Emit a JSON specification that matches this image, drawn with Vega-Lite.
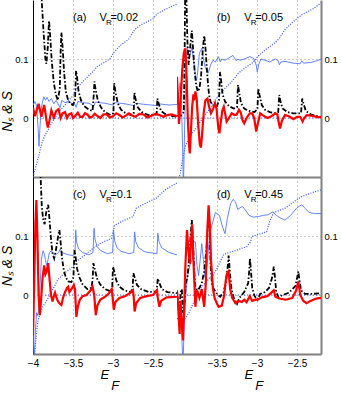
{
"$schema":"https://vega.github.io/schema/vega-lite/v6.json",
"background":"white",
"padding":{"left":0,"top":0,"right":0,"bottom":0},
"spacing":0,
"config":{"view":{"stroke":null},"font":"Liberation Sans",
"axis":{"labelFont":"Liberation Sans","labelFontSize":10,"labelColor":"black","ticks":false,"grid":true,"gridColor":"#8c8c8c","gridDash":[1,3],"gridWidth":0.9,"titleFont":"Liberation Sans","titleFontWeight":"normal","titleColor":"black","labelFlush":false}},
"datasets":{
"labels":[{"p":"a","t":"(a)","v":"=0.02"},{"p":"b","t":"(b)","v":"=0.05"},{"p":"c","t":"(c)","v":"=0.1"},{"p":"d","t":"(d)","v":"=0.45"}],
"aZ":[{"x":-3.95,"y":0},{"x":-2.2,"y":0}],
"bZ":[{"x":-3.96,"y":0},{"x":-2.2,"y":0}],
"cZ":[{"x":-3.85,"y":0},{"x":-2.2,"y":0}],
"dZ":[{"x":-3.95,"y":0},{"x":-2.2,"y":0}],
"aN":[{"x":-4.0,"y":0.3},{"x":-3.9,"y":0.22},{"x":-3.87,"y":0.15},{"x":-3.845,"y":0.1},{"x":-3.833,"y":0.092},{"x":-3.815,"y":0.12},{"x":-3.8,"y":0.165},{"x":-3.79,"y":0.15},{"x":-3.765,"y":0.095},{"x":-3.74,"y":0.06},{"x":-3.715,"y":0.04},{"x":-3.69,"y":0.03},{"x":-3.665,"y":0.05},{"x":-3.655,"y":0.11},{"x":-3.645,"y":0.145},{"x":-3.63,"y":0.12},{"x":-3.61,"y":0.075},{"x":-3.59,"y":0.045},{"x":-3.56,"y":0.03},{"x":-3.53,"y":0.024},{"x":-3.5,"y":0.022},{"x":-3.475,"y":0.03},{"x":-3.462,"y":0.08},{"x":-3.45,"y":0.07},{"x":-3.43,"y":0.045},{"x":-3.4,"y":0.03},{"x":-3.36,"y":0.02},{"x":-3.3,"y":0.014},{"x":-3.255,"y":0.012},{"x":-3.24,"y":0.04},{"x":-3.232,"y":0.062},{"x":-3.22,"y":0.05},{"x":-3.19,"y":0.03},{"x":-3.15,"y":0.018},{"x":-3.1,"y":0.01},{"x":-3.03,"y":0.005},{"x":-2.995,"y":0.008},{"x":-2.985,"y":0.059},{"x":-2.97,"y":0.045},{"x":-2.94,"y":0.025},{"x":-2.9,"y":0.014},{"x":-2.85,"y":0.009},{"x":-2.78,"y":0.005},{"x":-2.742,"y":0.008},{"x":-2.732,"y":0.043},{"x":-2.72,"y":0.033},{"x":-2.69,"y":0.018},{"x":-2.64,"y":0.01},{"x":-2.56,"y":0.005},{"x":-2.455,"y":0.006},{"x":-2.445,"y":0.033},{"x":-2.43,"y":0.025},{"x":-2.4,"y":0.012},{"x":-2.35,"y":0.007},{"x":-2.28,"y":0.004},{"x":-2.2,"y":0.002}],
"aS":[{"x":-4.0,"y":0.018},{"x":-3.975,"y":0.003},{"x":-3.93,"y":0.024},{"x":-3.895,"y":0.002},{"x":-3.86,"y":0.022},{"x":-3.83,"y":-0.005},{"x":-3.815,"y":-0.016},{"x":-3.795,"y":-0.005},{"x":-3.77,"y":0.013},{"x":-3.74,"y":0.001},{"x":-3.71,"y":0.012},{"x":-3.68,"y":0.015},{"x":-3.655,"y":0.0},{"x":-3.63,"y":0.008},{"x":-3.6,"y":0.01},{"x":-3.575,"y":0.0},{"x":-3.55,"y":0.006},{"x":-3.52,"y":0.008},{"x":-3.5,"y":0.0},{"x":-3.47,"y":0.004},{"x":-3.44,"y":0.009},{"x":-3.41,"y":0.002},{"x":-3.38,"y":0.002},{"x":-3.35,"y":0.008},{"x":-3.32,"y":0.006},{"x":-3.29,"y":0.001},{"x":-3.26,"y":0.002},{"x":-3.23,"y":0.007},{"x":-3.2,"y":0.004},{"x":-3.16,"y":0.0},{"x":-3.12,"y":0.006},{"x":-3.08,"y":0.006},{"x":-3.04,"y":0.001},{"x":-3.0,"y":0.003},{"x":-2.96,"y":0.008},{"x":-2.92,"y":0.005},{"x":-2.88,"y":0.001},{"x":-2.84,"y":0.004},{"x":-2.8,"y":0.008},{"x":-2.76,"y":0.004},{"x":-2.72,"y":0.002},{"x":-2.67,"y":0.007},{"x":-2.62,"y":0.006},{"x":-2.57,"y":0.001},{"x":-2.52,"y":0.004},{"x":-2.47,"y":0.007},{"x":-2.42,"y":0.005},{"x":-2.37,"y":0.002},{"x":-2.32,"y":0.005},{"x":-2.27,"y":0.006},{"x":-2.2,"y":0.003}],
"aB":[{"x":-4.0,"y":0.022},{"x":-3.975,"y":0.028},{"x":-3.955,"y":0.02},{"x":-3.935,"y":-0.02},{"x":-3.925,"y":-0.048},{"x":-3.915,"y":-0.02},{"x":-3.9,"y":0.012},{"x":-3.885,"y":0.025},{"x":-3.865,"y":0.036},{"x":-3.845,"y":0.03},{"x":-3.825,"y":0.035},{"x":-3.8,"y":0.028},{"x":-3.77,"y":0.033},{"x":-3.74,"y":0.024},{"x":-3.71,"y":0.03},{"x":-3.68,"y":0.022},{"x":-3.66,"y":0.018},{"x":-3.64,"y":0.03},{"x":-3.6,"y":0.026},{"x":-3.56,"y":0.028},{"x":-3.52,"y":0.025},{"x":-3.48,"y":0.024},{"x":-3.46,"y":0.018},{"x":-3.44,"y":0.028},{"x":-3.38,"y":0.026},{"x":-3.3,"y":0.025},{"x":-3.24,"y":0.02},{"x":-3.22,"y":0.027},{"x":-3.1,"y":0.025},{"x":-3.0,"y":0.022},{"x":-2.98,"y":0.026},{"x":-2.85,"y":0.024},{"x":-2.74,"y":0.021},{"x":-2.72,"y":0.025},{"x":-2.6,"y":0.023},{"x":-2.45,"y":0.021},{"x":-2.43,"y":0.024},{"x":-2.3,"y":0.022},{"x":-2.2,"y":0.023}],
"aD":[{"x":-4.0,"y":-0.1},{"x":-3.97,"y":-0.085},{"x":-3.93,"y":-0.065},{"x":-3.9,"y":-0.048},{"x":-3.87,"y":-0.035},{"x":-3.83,"y":-0.024},{"x":-3.79,"y":-0.015},{"x":-3.75,"y":-0.005},{"x":-3.7,"y":0.006},{"x":-3.65,"y":0.015},{"x":-3.6,"y":0.022},{"x":-3.55,"y":0.03},{"x":-3.5,"y":0.038},{"x":-3.46,"y":0.048},{"x":-3.42,"y":0.055},{"x":-3.37,"y":0.063},{"x":-3.3,"y":0.072},{"x":-3.235,"y":0.081},{"x":-3.2,"y":0.087},{"x":-3.1,"y":0.095},{"x":-3.04,"y":0.1},{"x":-2.985,"y":0.112},{"x":-2.9,"y":0.124},{"x":-2.8,"y":0.134},{"x":-2.73,"y":0.15},{"x":-2.65,"y":0.158},{"x":-2.5,"y":0.168},{"x":-2.445,"y":0.177},{"x":-2.3,"y":0.187},{"x":-2.2,"y":0.193}],
"bN":[{"x":-4.0,"y":0.004},{"x":-3.95,"y":0.004},{"x":-3.915,"y":0.01},{"x":-3.905,"y":0.1},{"x":-3.895,"y":0.26},{"x":-3.885,"y":0.22},{"x":-3.87,"y":0.13},{"x":-3.855,"y":0.09},{"x":-3.835,"y":0.12},{"x":-3.815,"y":0.148},{"x":-3.8,"y":0.12},{"x":-3.78,"y":0.08},{"x":-3.76,"y":0.055},{"x":-3.74,"y":0.045},{"x":-3.72,"y":0.05},{"x":-3.7,"y":0.07},{"x":-3.675,"y":0.12},{"x":-3.66,"y":0.14},{"x":-3.645,"y":0.12},{"x":-3.62,"y":0.07},{"x":-3.6,"y":0.04},{"x":-3.58,"y":0.027},{"x":-3.54,"y":0.02},{"x":-3.5,"y":0.02},{"x":-3.475,"y":0.03},{"x":-3.462,"y":0.078},{"x":-3.45,"y":0.065},{"x":-3.43,"y":0.04},{"x":-3.4,"y":0.028},{"x":-3.35,"y":0.02},{"x":-3.29,"y":0.016},{"x":-3.25,"y":0.018},{"x":-3.238,"y":0.056},{"x":-3.225,"y":0.045},{"x":-3.2,"y":0.025},{"x":-3.16,"y":0.016},{"x":-3.1,"y":0.012},{"x":-3.03,"y":0.01},{"x":-2.995,"y":0.015},{"x":-2.983,"y":0.05},{"x":-2.97,"y":0.04},{"x":-2.94,"y":0.022},{"x":-2.9,"y":0.014},{"x":-2.84,"y":0.01},{"x":-2.78,"y":0.008},{"x":-2.735,"y":0.01},{"x":-2.722,"y":0.039},{"x":-2.71,"y":0.03},{"x":-2.68,"y":0.016},{"x":-2.62,"y":0.01},{"x":-2.55,"y":0.008},{"x":-2.45,"y":0.008},{"x":-2.435,"y":0.033},{"x":-2.42,"y":0.025},{"x":-2.39,"y":0.012},{"x":-2.33,"y":0.006},{"x":-2.27,"y":0.004},{"x":-2.2,"y":0.002}],
"bS":[{"x":-4.0,"y":0.07},{"x":-3.99,"y":0.04},{"x":-3.975,"y":-0.01},{"x":-3.96,"y":0.02},{"x":-3.935,"y":0.08},{"x":-3.915,"y":0.11},{"x":-3.895,"y":0.118},{"x":-3.88,"y":0.07},{"x":-3.865,"y":0.0},{"x":-3.85,"y":-0.045},{"x":-3.84,"y":-0.06},{"x":-3.825,"y":-0.02},{"x":-3.81,"y":0.02},{"x":-3.795,"y":0.04},{"x":-3.785,"y":0.03},{"x":-3.77,"y":0.045},{"x":-3.755,"y":0.035},{"x":-3.735,"y":-0.01},{"x":-3.715,"y":-0.045},{"x":-3.7,"y":-0.05},{"x":-3.685,"y":-0.025},{"x":-3.665,"y":0.01},{"x":-3.645,"y":0.03},{"x":-3.62,"y":0.033},{"x":-3.6,"y":0.02},{"x":-3.575,"y":0.008},{"x":-3.55,"y":0.015},{"x":-3.525,"y":0.025},{"x":-3.505,"y":0.015},{"x":-3.485,"y":-0.015},{"x":-3.47,"y":-0.026},{"x":-3.455,"y":-0.01},{"x":-3.435,"y":0.012},{"x":-3.415,"y":0.019},{"x":-3.395,"y":0.005},{"x":-3.38,"y":-0.006},{"x":-3.35,"y":0.0},{"x":-3.317,"y":0.008},{"x":-3.28,"y":0.005},{"x":-3.254,"y":0.006},{"x":-3.225,"y":0.014},{"x":-3.205,"y":0.01},{"x":-3.18,"y":-0.004},{"x":-3.16,"y":-0.009},{"x":-3.13,"y":0.0},{"x":-3.09,"y":0.008},{"x":-3.06,"y":0.008},{"x":-3.035,"y":0.0},{"x":-3.01,"y":-0.023},{"x":-2.99,"y":-0.01},{"x":-2.96,"y":0.008},{"x":-2.92,"y":0.004},{"x":-2.87,"y":0.0},{"x":-2.82,"y":0.003},{"x":-2.77,"y":0.008},{"x":-2.745,"y":0.006},{"x":-2.725,"y":-0.01},{"x":-2.712,"y":-0.018},{"x":-2.69,"y":-0.005},{"x":-2.65,"y":0.005},{"x":-2.6,"y":0.003},{"x":-2.546,"y":-0.002},{"x":-2.5,"y":0.002},{"x":-2.46,"y":0.002},{"x":-2.43,"y":-0.006},{"x":-2.41,"y":0.0},{"x":-2.38,"y":0.005},{"x":-2.32,"y":0.004},{"x":-2.254,"y":0.002},{"x":-2.2,"y":0.001}],
"bB":[{"x":-4.0,"y":0.025},{"x":-3.975,"y":0.045},{"x":-3.96,"y":0.06},{"x":-3.945,"y":0.03},{"x":-3.93,"y":-0.05},{"x":-3.92,"y":-0.12},{"x":-3.905,"y":-0.02},{"x":-3.895,"y":0.04},{"x":-3.88,"y":0.1},{"x":-3.87,"y":0.121},{"x":-3.855,"y":0.11},{"x":-3.835,"y":0.108},{"x":-3.815,"y":0.12},{"x":-3.8,"y":0.105},{"x":-3.785,"y":0.09},{"x":-3.77,"y":0.07},{"x":-3.755,"y":0.064},{"x":-3.74,"y":0.08},{"x":-3.72,"y":0.11},{"x":-3.69,"y":0.118},{"x":-3.67,"y":0.1},{"x":-3.645,"y":0.085},{"x":-3.61,"y":0.076},{"x":-3.58,"y":0.09},{"x":-3.55,"y":0.098},{"x":-3.52,"y":0.095},{"x":-3.48,"y":0.104},{"x":-3.46,"y":0.095},{"x":-3.44,"y":0.1},{"x":-3.4,"y":0.098},{"x":-3.36,"y":0.101},{"x":-3.3,"y":0.106},{"x":-3.26,"y":0.097},{"x":-3.24,"y":0.1},{"x":-3.21,"y":0.098},{"x":-3.16,"y":0.1},{"x":-3.09,"y":0.104},{"x":-3.04,"y":0.101},{"x":-3.01,"y":0.09},{"x":-2.996,"y":0.078},{"x":-2.98,"y":0.09},{"x":-2.95,"y":0.1},{"x":-2.9,"y":0.098},{"x":-2.84,"y":0.095},{"x":-2.77,"y":0.1},{"x":-2.735,"y":0.097},{"x":-2.72,"y":0.09},{"x":-2.7,"y":0.095},{"x":-2.65,"y":0.096},{"x":-2.55,"y":0.093},{"x":-2.46,"y":0.092},{"x":-2.44,"y":0.097},{"x":-2.42,"y":0.093},{"x":-2.33,"y":0.094},{"x":-2.25,"y":0.097},{"x":-2.2,"y":0.1}],
"bD":[{"x":-4.0,"y":-0.11},{"x":-3.96,"y":-0.095},{"x":-3.93,"y":-0.07},{"x":-3.9,"y":-0.05},{"x":-3.88,"y":-0.043},{"x":-3.82,"y":-0.028},{"x":-3.75,"y":-0.015},{"x":-3.67,"y":0.002},{"x":-3.6,"y":0.014},{"x":-3.55,"y":0.025},{"x":-3.46,"y":0.042},{"x":-3.38,"y":0.053},{"x":-3.3,"y":0.064},{"x":-3.233,"y":0.076},{"x":-3.15,"y":0.085},{"x":-3.05,"y":0.094},{"x":-2.985,"y":0.105},{"x":-2.9,"y":0.115},{"x":-2.8,"y":0.125},{"x":-2.72,"y":0.135},{"x":-2.65,"y":0.15},{"x":-2.55,"y":0.163},{"x":-2.44,"y":0.175},{"x":-2.3,"y":0.185},{"x":-2.2,"y":0.195}],
"cN":[{"x":-4.0,"y":0.3},{"x":-3.92,"y":0.26},{"x":-3.905,"y":0.2},{"x":-3.89,"y":0.15},{"x":-3.875,"y":0.13},{"x":-3.855,"y":0.12},{"x":-3.835,"y":0.14},{"x":-3.81,"y":0.153},{"x":-3.795,"y":0.13},{"x":-3.775,"y":0.095},{"x":-3.755,"y":0.07},{"x":-3.735,"y":0.062},{"x":-3.715,"y":0.075},{"x":-3.685,"y":0.1},{"x":-3.67,"y":0.11},{"x":-3.655,"y":0.09},{"x":-3.635,"y":0.06},{"x":-3.615,"y":0.042},{"x":-3.59,"y":0.03},{"x":-3.56,"y":0.023},{"x":-3.52,"y":0.022},{"x":-3.495,"y":0.03},{"x":-3.48,"y":0.076},{"x":-3.468,"y":0.065},{"x":-3.45,"y":0.045},{"x":-3.42,"y":0.03},{"x":-3.38,"y":0.018},{"x":-3.32,"y":0.01},{"x":-3.27,"y":0.012},{"x":-3.255,"y":0.025},{"x":-3.245,"y":0.054},{"x":-3.23,"y":0.045},{"x":-3.2,"y":0.028},{"x":-3.16,"y":0.018},{"x":-3.1,"y":0.01},{"x":-3.03,"y":0.006},{"x":-3.01,"y":0.012},{"x":-3.0,"y":0.048},{"x":-2.985,"y":0.04},{"x":-2.96,"y":0.025},{"x":-2.92,"y":0.014},{"x":-2.86,"y":0.008},{"x":-2.78,"y":0.005},{"x":-2.755,"y":0.01},{"x":-2.745,"y":0.037},{"x":-2.73,"y":0.03},{"x":-2.7,"y":0.017},{"x":-2.65,"y":0.01},{"x":-2.55,"y":0.005},{"x":-2.455,"y":0.006},{"x":-2.44,"y":0.028},{"x":-2.425,"y":0.022},{"x":-2.39,"y":0.01},{"x":-2.32,"y":0.005},{"x":-2.2,"y":0.003}],
"cS":[{"x":-4.0,"y":-0.068},{"x":-3.985,"y":0.02},{"x":-3.97,"y":0.12},{"x":-3.958,"y":0.161},{"x":-3.945,"y":0.1},{"x":-3.93,"y":0.0},{"x":-3.915,"y":-0.034},{"x":-3.9,"y":-0.01},{"x":-3.88,"y":0.03},{"x":-3.86,"y":0.05},{"x":-3.845,"y":0.035},{"x":-3.83,"y":0.04},{"x":-3.81,"y":0.054},{"x":-3.795,"y":0.03},{"x":-3.775,"y":0.0},{"x":-3.755,"y":-0.011},{"x":-3.74,"y":-0.002},{"x":-3.725,"y":0.004},{"x":-3.705,"y":-0.005},{"x":-3.69,"y":-0.01},{"x":-3.67,"y":-0.014},{"x":-3.645,"y":-0.017},{"x":-3.625,"y":-0.005},{"x":-3.6,"y":0.005},{"x":-3.575,"y":0.012},{"x":-3.56,"y":0.014},{"x":-3.545,"y":0.005},{"x":-3.53,"y":0.008},{"x":-3.51,"y":0.012},{"x":-3.49,"y":0.017},{"x":-3.475,"y":0.01},{"x":-3.458,"y":-0.037},{"x":-3.44,"y":-0.02},{"x":-3.415,"y":-0.008},{"x":-3.38,"y":-0.002},{"x":-3.33,"y":0.0},{"x":-3.28,"y":0.008},{"x":-3.255,"y":0.014},{"x":-3.235,"y":0.0},{"x":-3.215,"y":-0.034},{"x":-3.195,"y":-0.018},{"x":-3.16,"y":-0.008},{"x":-3.1,"y":-0.003},{"x":-3.05,"y":0.003},{"x":-3.015,"y":0.01},{"x":-3.0,"y":-0.01},{"x":-2.99,"y":-0.025},{"x":-2.97,"y":-0.012},{"x":-2.92,"y":-0.005},{"x":-2.85,"y":-0.002},{"x":-2.78,"y":0.004},{"x":-2.75,"y":0.008},{"x":-2.74,"y":-0.005},{"x":-2.73,"y":-0.028},{"x":-2.71,"y":-0.014},{"x":-2.66,"y":-0.005},{"x":-2.58,"y":-0.002},{"x":-2.5,"y":0.0},{"x":-2.45,"y":0.008},{"x":-2.44,"y":-0.005},{"x":-2.42,"y":-0.02},{"x":-2.4,"y":-0.01},{"x":-2.33,"y":-0.004},{"x":-2.2,"y":-0.003}],
"cB":[{"x":-4.0,"y":-0.05},{"x":-3.985,"y":-0.12},{"x":-3.97,"y":-0.06},{"x":-3.955,"y":-0.03},{"x":-3.94,"y":-0.035},{"x":-3.925,"y":-0.02},{"x":-3.91,"y":0.02},{"x":-3.895,"y":0.06},{"x":-3.875,"y":0.075},{"x":-3.86,"y":0.07},{"x":-3.845,"y":0.06},{"x":-3.83,"y":0.05},{"x":-3.815,"y":0.058},{"x":-3.795,"y":0.072},{"x":-3.77,"y":0.075},{"x":-3.75,"y":0.07},{"x":-3.72,"y":0.068},{"x":-3.68,"y":0.072},{"x":-3.66,"y":0.078},{"x":-3.64,"y":0.072},{"x":-3.6,"y":0.07},{"x":-3.55,"y":0.068},{"x":-3.5,"y":0.067},{"x":-3.475,"y":0.07},{"x":-3.466,"y":0.11},{"x":-3.455,"y":0.09},{"x":-3.43,"y":0.078},{"x":-3.38,"y":0.072},{"x":-3.3,"y":0.068},{"x":-3.25,"y":0.072},{"x":-3.237,"y":0.113},{"x":-3.225,"y":0.095},{"x":-3.2,"y":0.082},{"x":-3.15,"y":0.075},{"x":-3.07,"y":0.07},{"x":-3.005,"y":0.072},{"x":-2.993,"y":0.11},{"x":-2.98,"y":0.092},{"x":-2.95,"y":0.08},{"x":-2.9,"y":0.074},{"x":-2.8,"y":0.07},{"x":-2.74,"y":0.072},{"x":-2.73,"y":0.107},{"x":-2.715,"y":0.09},{"x":-2.68,"y":0.08},{"x":-2.6,"y":0.073},{"x":-2.45,"y":0.07},{"x":-2.44,"y":0.105},{"x":-2.425,"y":0.09},{"x":-2.39,"y":0.08},{"x":-2.3,"y":0.072},{"x":-2.2,"y":0.068}],
"cD":[{"x":-3.98,"y":-0.1},{"x":-3.96,"y":-0.07},{"x":-3.94,"y":-0.045},{"x":-3.92,"y":-0.035},{"x":-3.88,"y":-0.02},{"x":-3.83,"y":-0.01},{"x":-3.75,"y":0.01},{"x":-3.69,"y":0.026},{"x":-3.6,"y":0.038},{"x":-3.5,"y":0.048},{"x":-3.458,"y":0.057},{"x":-3.35,"y":0.068},{"x":-3.25,"y":0.079},{"x":-3.15,"y":0.088},{"x":-3.02,"y":0.096},{"x":-2.98,"y":0.118},{"x":-2.87,"y":0.126},{"x":-2.75,"y":0.133},{"x":-2.71,"y":0.147},{"x":-2.6,"y":0.155},{"x":-2.46,"y":0.164},{"x":-2.35,"y":0.178},{"x":-2.2,"y":0.19}],
"dN":[{"x":-4.0,"y":0.0},{"x":-3.985,"y":-0.01},{"x":-3.97,"y":-0.03},{"x":-3.955,"y":0.005},{"x":-3.94,"y":0.01},{"x":-3.925,"y":-0.03},{"x":-3.905,"y":-0.01},{"x":-3.89,"y":0.02},{"x":-3.87,"y":0.03},{"x":-3.85,"y":0.06},{"x":-3.83,"y":0.1},{"x":-3.815,"y":0.127},{"x":-3.8,"y":0.09},{"x":-3.785,"y":0.04},{"x":-3.77,"y":0.014},{"x":-3.75,"y":0.008},{"x":-3.72,"y":0.012},{"x":-3.69,"y":0.02},{"x":-3.66,"y":0.04},{"x":-3.63,"y":0.08},{"x":-3.605,"y":0.144},{"x":-3.595,"y":0.12},{"x":-3.58,"y":0.05},{"x":-3.56,"y":0.015},{"x":-3.53,"y":0.008},{"x":-3.49,"y":0.0},{"x":-3.46,"y":-0.003},{"x":-3.42,"y":0.004},{"x":-3.39,"y":0.02},{"x":-3.365,"y":0.05},{"x":-3.354,"y":0.067},{"x":-3.34,"y":0.04},{"x":-3.32,"y":0.01},{"x":-3.29,"y":-0.005},{"x":-3.25,"y":-0.015},{"x":-3.22,"y":-0.005},{"x":-3.16,"y":0.005},{"x":-3.11,"y":0.02},{"x":-3.095,"y":0.045},{"x":-3.088,"y":0.062},{"x":-3.075,"y":0.04},{"x":-3.06,"y":0.012},{"x":-3.03,"y":-0.002},{"x":-2.996,"y":-0.008},{"x":-2.96,"y":0.002},{"x":-2.9,"y":0.005},{"x":-2.85,"y":0.012},{"x":-2.81,"y":0.03},{"x":-2.79,"y":0.048},{"x":-2.775,"y":0.03},{"x":-2.76,"y":0.005},{"x":-2.73,"y":-0.004},{"x":-2.68,"y":0.0},{"x":-2.6,"y":0.004},{"x":-2.52,"y":0.015},{"x":-2.49,"y":0.035},{"x":-2.483,"y":0.04},{"x":-2.47,"y":0.025},{"x":-2.45,"y":0.008},{"x":-2.4,"y":0.002},{"x":-2.3,"y":0.002},{"x":-2.2,"y":0.003}],
"dS":[{"x":-4.0,"y":0.008},{"x":-3.985,"y":-0.02},{"x":-3.967,"y":-0.066},{"x":-3.955,"y":-0.01},{"x":-3.94,"y":-0.05},{"x":-3.925,"y":-0.077},{"x":-3.91,"y":-0.02},{"x":-3.895,"y":0.05},{"x":-3.875,"y":0.11},{"x":-3.86,"y":0.08},{"x":-3.84,"y":0.053},{"x":-3.825,"y":0.09},{"x":-3.81,"y":0.12},{"x":-3.795,"y":0.06},{"x":-3.77,"y":-0.02},{"x":-3.75,"y":0.008},{"x":-3.72,"y":-0.005},{"x":-3.69,"y":0.01},{"x":-3.66,"y":-0.02},{"x":-3.64,"y":0.02},{"x":-3.625,"y":0.098},{"x":-3.605,"y":0.152},{"x":-3.59,"y":0.12},{"x":-3.575,"y":0.059},{"x":-3.55,"y":0.01},{"x":-3.53,"y":-0.005},{"x":-3.5,"y":-0.015},{"x":-3.48,"y":-0.02},{"x":-3.44,"y":-0.018},{"x":-3.41,"y":0.0},{"x":-3.39,"y":0.025},{"x":-3.375,"y":0.036},{"x":-3.355,"y":0.04},{"x":-3.335,"y":0.01},{"x":-3.31,"y":-0.005},{"x":-3.27,"y":-0.014},{"x":-3.23,"y":-0.01},{"x":-3.19,"y":-0.012},{"x":-3.16,"y":-0.008},{"x":-3.13,"y":-0.012},{"x":-3.09,"y":-0.002},{"x":-3.06,"y":-0.01},{"x":-3.02,"y":-0.008},{"x":-2.99,"y":-0.008},{"x":-2.94,"y":-0.004},{"x":-2.87,"y":-0.002},{"x":-2.82,"y":0.004},{"x":-2.79,"y":0.008},{"x":-2.77,"y":-0.003},{"x":-2.72,"y":-0.006},{"x":-2.64,"y":-0.008},{"x":-2.56,"y":-0.005},{"x":-2.51,"y":0.008},{"x":-2.483,"y":0.023},{"x":-2.46,"y":0.0},{"x":-2.42,"y":-0.01},{"x":-2.38,"y":-0.014},{"x":-2.33,"y":-0.01},{"x":-2.26,"y":-0.006},{"x":-2.2,"y":-0.005}],
"dB":[{"x":-4.0,"y":0.0},{"x":-3.98,"y":-0.03},{"x":-3.96,"y":-0.02},{"x":-3.94,"y":-0.07},{"x":-3.925,"y":-0.12},{"x":-3.91,"y":-0.05},{"x":-3.89,"y":0.0},{"x":-3.87,"y":0.03},{"x":-3.84,"y":0.05},{"x":-3.81,"y":0.06},{"x":-3.79,"y":0.09},{"x":-3.77,"y":0.09},{"x":-3.75,"y":0.05},{"x":-3.73,"y":0.033},{"x":-3.71,"y":0.06},{"x":-3.69,"y":0.087},{"x":-3.67,"y":0.06},{"x":-3.65,"y":0.03},{"x":-3.62,"y":0.055},{"x":-3.6,"y":0.09},{"x":-3.58,"y":0.11},{"x":-3.55,"y":0.125},{"x":-3.52,"y":0.14},{"x":-3.47,"y":0.135},{"x":-3.43,"y":0.115},{"x":-3.4,"y":0.104},{"x":-3.37,"y":0.13},{"x":-3.33,"y":0.155},{"x":-3.3,"y":0.162},{"x":-3.27,"y":0.158},{"x":-3.24,"y":0.145},{"x":-3.21,"y":0.148},{"x":-3.18,"y":0.15},{"x":-3.15,"y":0.145},{"x":-3.1,"y":0.135},{"x":-3.05,"y":0.132},{"x":-2.98,"y":0.133},{"x":-2.92,"y":0.135},{"x":-2.86,"y":0.136},{"x":-2.8,"y":0.141},{"x":-2.76,"y":0.135},{"x":-2.7,"y":0.13},{"x":-2.65,"y":0.127},{"x":-2.58,"y":0.135},{"x":-2.5,"y":0.148},{"x":-2.44,"y":0.153},{"x":-2.4,"y":0.147},{"x":-2.35,"y":0.14},{"x":-2.28,"y":0.138},{"x":-2.2,"y":0.138}],
"dD":[{"x":-4.0,"y":-0.04},{"x":-3.95,"y":-0.04},{"x":-3.9,"y":-0.04},{"x":-3.85,"y":-0.03},{"x":-3.8,"y":-0.015},{"x":-3.75,"y":0.0},{"x":-3.7,"y":0.012},{"x":-3.65,"y":0.02},{"x":-3.6,"y":0.028},{"x":-3.546,"y":0.034},{"x":-3.5,"y":0.045},{"x":-3.42,"y":0.068},{"x":-3.35,"y":0.072},{"x":-3.254,"y":0.076},{"x":-3.13,"y":0.082},{"x":-3.08,"y":0.09},{"x":-3.067,"y":0.099},{"x":-2.95,"y":0.104},{"x":-2.88,"y":0.107},{"x":-2.84,"y":0.125},{"x":-2.79,"y":0.14},{"x":-2.65,"y":0.147},{"x":-2.5,"y":0.162},{"x":-2.44,"y":0.167},{"x":-2.3,"y":0.174},{"x":-2.2,"y":0.178}]
},
"vconcat":[
{"spacing":0,"hconcat":[
{"width":144,"height":177,"layer":[
{"data":{"name":"aZ"},"mark":{"type":"line","color":"#2f55ff","strokeDash":[1,2],"strokeWidth":1,"clip":true},
"encoding":{"x":{"field":"x","type":"quantitative","scale":{"domain":[-4,-2.2],"nice":false,"zero":false},"axis":{"orient":"bottom","values":[-3.5,-3,-2.5],"labels":false,"title":null,"domainColor":"#808080","domainWidth":2}},
"y":{"field":"y","type":"quantitative","scale":{"domain":[-0.1,0.2],"nice":false,"zero":false},"axis":{"orient":"left","values":[0,0.1],"format":"~g","labelFontSize":9.5,"title":"Nₛ & S","titleFontSize":14,"titleFontStyle":"italic","titleY":111,"titlePadding":0,"labelPadding":5,"domainColor":"black","domainWidth":1}}}},
{"data":{"name":"aD"},"mark":{"type":"line","color":"#2f55ff","strokeDash":[1,1.5],"strokeWidth":1.2,"clip":true},"encoding":{"x":{"field":"x","type":"quantitative"},"y":{"field":"y","type":"quantitative"}}},
{"data":{"name":"aB"},"mark":{"type":"line","color":"#5577ff","strokeWidth":0.9,"clip":true},"encoding":{"x":{"field":"x","type":"quantitative"},"y":{"field":"y","type":"quantitative"}}},
{"data":{"name":"aN"},"mark":{"type":"line","color":"black","strokeDash":[5,2,1.5,2],"strokeWidth":1.8,"clip":true},"encoding":{"x":{"field":"x","type":"quantitative"},"y":{"field":"y","type":"quantitative"}}},
{"data":{"name":"aS"},"mark":{"type":"line","color":"#ff0000","strokeWidth":2.2,"clip":true},"encoding":{"x":{"field":"x","type":"quantitative"},"y":{"field":"y","type":"quantitative"}}},
{"data":{"name":"labels"},"transform":[{"filter":"datum.p==='a'"}],"mark":{"type":"text","align":"left","baseline":"middle","fontSize":11,"font":"Liberation Sans"},"encoding":{"x":{"datum":-3.5},"y":{"datum":0.17},"text":{"field":"t"}}},
{"data":{"name":"labels"},"transform":[{"filter":"datum.p==='a'"}],"mark":{"type":"text","align":"left","baseline":"middle","fontSize":11,"font":"Liberation Sans"},"encoding":{"x":{"datum":-3.17},"y":{"datum":0.17},"text":{"value":"V"}}},
{"data":{"name":"labels"},"transform":[{"filter":"datum.p==='a'"}],"mark":{"type":"text","align":"left","baseline":"middle","fontSize":8,"dx":6.5,"dy":5,"font":"Liberation Sans"},"encoding":{"x":{"datum":-3.17},"y":{"datum":0.17},"text":{"value":"R"}}},
{"data":{"name":"labels"},"transform":[{"filter":"datum.p==='a'"}],"mark":{"type":"text","align":"left","baseline":"middle","fontSize":11,"dx":11,"font":"Liberation Sans"},"encoding":{"x":{"datum":-3.17},"y":{"datum":0.17},"text":{"field":"v"}}}
]},
{"width":144,"height":177,"layer":[
{"data":{"name":"bZ"},"mark":{"type":"line","color":"#2f55ff","strokeDash":[1,2],"strokeWidth":1,"clip":true},
"encoding":{"x":{"field":"x","type":"quantitative","scale":{"domain":[-4,-2.2],"nice":false,"zero":false},"axis":{"orient":"bottom","values":[-3.5,-3,-2.5],"labels":false,"title":null,"domainColor":"#808080","domainWidth":2}},
"y":{"field":"y","type":"quantitative","scale":{"domain":[-0.1,0.2],"nice":false,"zero":false},"axis":{"orient":"right","values":[0,0.1],"format":"~g","labelFontSize":9.5,"title":null,"labelPadding":3,"domainColor":"#808080","domainWidth":2}}}},
{"data":{"name":"bD"},"mark":{"type":"line","color":"#2f55ff","strokeDash":[1,1.5],"strokeWidth":1.2,"clip":true},"encoding":{"x":{"field":"x","type":"quantitative"},"y":{"field":"y","type":"quantitative"}}},
{"data":{"name":"bB"},"mark":{"type":"line","color":"#5577ff","strokeWidth":0.9,"clip":true},"encoding":{"x":{"field":"x","type":"quantitative"},"y":{"field":"y","type":"quantitative"}}},
{"data":{"name":"bN"},"mark":{"type":"line","color":"black","strokeDash":[5,2,1.5,2],"strokeWidth":1.8,"clip":true},"encoding":{"x":{"field":"x","type":"quantitative"},"y":{"field":"y","type":"quantitative"}}},
{"data":{"name":"bS"},"mark":{"type":"line","color":"#ff0000","strokeWidth":2.2,"clip":true},"encoding":{"x":{"field":"x","type":"quantitative"},"y":{"field":"y","type":"quantitative"}}},
{"mark":{"type":"rule","color":"black","strokeWidth":1},"encoding":{"x":{"datum":-4}}},
{"data":{"name":"labels"},"transform":[{"filter":"datum.p==='b'"}],"mark":{"type":"text","align":"left","baseline":"middle","fontSize":11,"font":"Liberation Sans"},"encoding":{"x":{"datum":-3.5},"y":{"datum":0.17},"text":{"field":"t"}}},
{"data":{"name":"labels"},"transform":[{"filter":"datum.p==='b'"}],"mark":{"type":"text","align":"left","baseline":"middle","fontSize":11,"font":"Liberation Sans"},"encoding":{"x":{"datum":-3.16},"y":{"datum":0.17},"text":{"value":"V"}}},
{"data":{"name":"labels"},"transform":[{"filter":"datum.p==='b'"}],"mark":{"type":"text","align":"left","baseline":"middle","fontSize":8,"dx":6.5,"dy":5,"font":"Liberation Sans"},"encoding":{"x":{"datum":-3.16},"y":{"datum":0.17},"text":{"value":"R"}}},
{"data":{"name":"labels"},"transform":[{"filter":"datum.p==='b'"}],"mark":{"type":"text","align":"left","baseline":"middle","fontSize":11,"dx":11,"font":"Liberation Sans"},"encoding":{"x":{"datum":-3.16},"y":{"datum":0.17},"text":{"field":"v"}}}
]}
]},
{"spacing":0,"hconcat":[
{"width":144,"height":177,"layer":[
{"data":{"name":"cZ"},"mark":{"type":"line","color":"#2f55ff","strokeDash":[1,2],"strokeWidth":1,"clip":true},
"encoding":{"x":{"field":"x","type":"quantitative","scale":{"domain":[-4,-2.2],"nice":false,"zero":false},"axis":{"orient":"bottom","values":[-4,-3.5,-3,-2.5],"format":"~g","title":["E","\u200b\u00a0\u00a0\u00a0F"],"titleAlign":"left","titleX":67,"titleFontSize":13,"titleFontStyle":"italic","titleLineHeight":11,"titlePadding":0,"labelPadding":4,"domainColor":"#808080","domainWidth":2,"gridColor":{"condition":{"test":"datum.value === -4","value":"transparent"},"value":"#8c8c8c"}}},
"y":{"field":"y","type":"quantitative","scale":{"domain":[-0.1,0.2],"nice":false,"zero":false},"axis":{"orient":"left","values":[0,0.1],"format":"~g","labelFontSize":9.5,"title":"Nₛ & S","titleFontSize":14,"titleFontStyle":"italic","titlePadding":0,"labelPadding":5,"domainColor":"black","domainWidth":1}}}},
{"data":{"name":"cD"},"mark":{"type":"line","color":"#2f55ff","strokeDash":[1,1.5],"strokeWidth":1.2,"clip":true},"encoding":{"x":{"field":"x","type":"quantitative"},"y":{"field":"y","type":"quantitative"}}},
{"data":{"name":"cB"},"mark":{"type":"line","color":"#5577ff","strokeWidth":0.9,"clip":true},"encoding":{"x":{"field":"x","type":"quantitative"},"y":{"field":"y","type":"quantitative"}}},
{"data":{"name":"cN"},"mark":{"type":"line","color":"black","strokeDash":[5,2,1.5,2],"strokeWidth":1.8,"clip":true},"encoding":{"x":{"field":"x","type":"quantitative"},"y":{"field":"y","type":"quantitative"}}},
{"data":{"name":"cS"},"mark":{"type":"line","color":"#ff0000","strokeWidth":2.2,"clip":true},"encoding":{"x":{"field":"x","type":"quantitative"},"y":{"field":"y","type":"quantitative"}}},
{"data":{"name":"labels"},"transform":[{"filter":"datum.p==='c'"}],"mark":{"type":"text","align":"left","baseline":"middle","fontSize":11,"font":"Liberation Sans"},"encoding":{"x":{"datum":-3.5},"y":{"datum":0.17},"text":{"field":"t"}}},
{"data":{"name":"labels"},"transform":[{"filter":"datum.p==='c'"}],"mark":{"type":"text","align":"left","baseline":"middle","fontSize":11,"font":"Liberation Sans"},"encoding":{"x":{"datum":-3.17},"y":{"datum":0.17},"text":{"value":"V"}}},
{"data":{"name":"labels"},"transform":[{"filter":"datum.p==='c'"}],"mark":{"type":"text","align":"left","baseline":"middle","fontSize":8,"dx":6.5,"dy":5,"font":"Liberation Sans"},"encoding":{"x":{"datum":-3.17},"y":{"datum":0.17},"text":{"value":"R"}}},
{"data":{"name":"labels"},"transform":[{"filter":"datum.p==='c'"}],"mark":{"type":"text","align":"left","baseline":"middle","fontSize":11,"dx":11,"font":"Liberation Sans"},"encoding":{"x":{"datum":-3.17},"y":{"datum":0.17},"text":{"field":"v"}}}
]},
{"width":144,"height":177,"layer":[
{"data":{"name":"dZ"},"mark":{"type":"line","color":"#2f55ff","strokeDash":[1,2],"strokeWidth":1,"clip":true},
"encoding":{"x":{"field":"x","type":"quantitative","scale":{"domain":[-4,-2.2],"nice":false,"zero":false},"axis":{"orient":"bottom","values":[-3.5,-3,-2.5],"format":"~g","title":["E","\u200b\u00a0\u00a0\u00a0F"],"titleAlign":"left","titleX":67,"titleFontSize":13,"titleFontStyle":"italic","titleLineHeight":11,"titlePadding":0,"labelPadding":4,"domainColor":"#808080","domainWidth":2}},
"y":{"field":"y","type":"quantitative","scale":{"domain":[-0.1,0.2],"nice":false,"zero":false},"axis":{"orient":"right","values":[0,0.1],"format":"~g","labelFontSize":9.5,"title":null,"labelPadding":3,"domainColor":"#808080","domainWidth":2}}}},
{"data":{"name":"dD"},"mark":{"type":"line","color":"#2f55ff","strokeDash":[1,1.5],"strokeWidth":1.2,"clip":true},"encoding":{"x":{"field":"x","type":"quantitative"},"y":{"field":"y","type":"quantitative"}}},
{"data":{"name":"dB"},"mark":{"type":"line","color":"#5577ff","strokeWidth":0.9,"clip":true},"encoding":{"x":{"field":"x","type":"quantitative"},"y":{"field":"y","type":"quantitative"}}},
{"data":{"name":"dN"},"mark":{"type":"line","color":"black","strokeDash":[5,2,1.5,2],"strokeWidth":1.8,"clip":true},"encoding":{"x":{"field":"x","type":"quantitative"},"y":{"field":"y","type":"quantitative"}}},
{"data":{"name":"dS"},"mark":{"type":"line","color":"#ff0000","strokeWidth":2.2,"clip":true},"encoding":{"x":{"field":"x","type":"quantitative"},"y":{"field":"y","type":"quantitative"}}},
{"mark":{"type":"rule","color":"black","strokeWidth":1},"encoding":{"x":{"datum":-4}}},
{"data":{"name":"labels"},"transform":[{"filter":"datum.p==='d'"}],"mark":{"type":"text","align":"left","baseline":"middle","fontSize":11,"font":"Liberation Sans"},"encoding":{"x":{"datum":-3.5},"y":{"datum":0.17},"text":{"field":"t"}}},
{"data":{"name":"labels"},"transform":[{"filter":"datum.p==='d'"}],"mark":{"type":"text","align":"left","baseline":"middle","fontSize":11,"font":"Liberation Sans"},"encoding":{"x":{"datum":-3.16},"y":{"datum":0.17},"text":{"value":"V"}}},
{"data":{"name":"labels"},"transform":[{"filter":"datum.p==='d'"}],"mark":{"type":"text","align":"left","baseline":"middle","fontSize":8,"dx":6.5,"dy":5,"font":"Liberation Sans"},"encoding":{"x":{"datum":-3.16},"y":{"datum":0.17},"text":{"value":"R"}}},
{"data":{"name":"labels"},"transform":[{"filter":"datum.p==='d'"}],"mark":{"type":"text","align":"left","baseline":"middle","fontSize":11,"dx":11,"font":"Liberation Sans"},"encoding":{"x":{"datum":-3.16},"y":{"datum":0.17},"text":{"field":"v"}}}
]}
]}
]
}
